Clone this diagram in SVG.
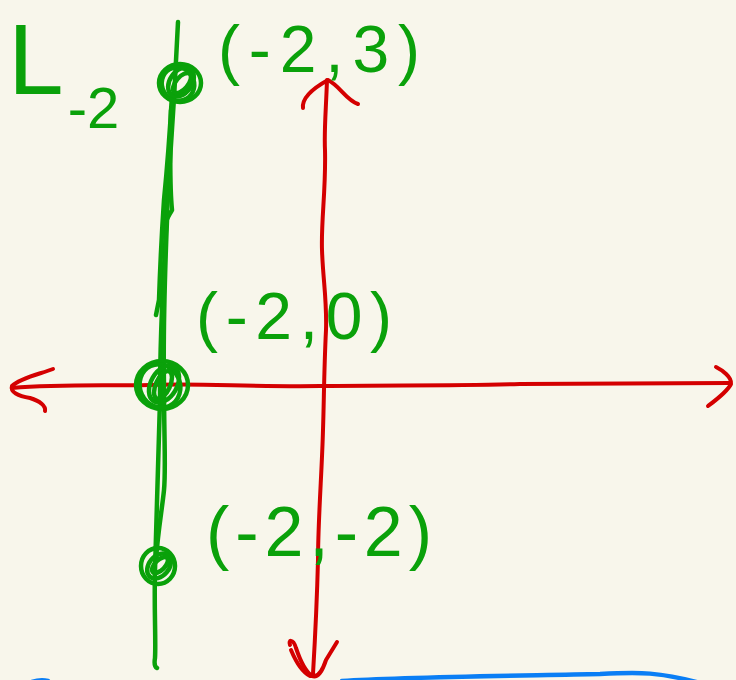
<svg xmlns="http://www.w3.org/2000/svg" width="736" height="680" viewBox="0 0 736 680">
<style>
.r{fill:none;stroke:#d40000;stroke-width:4;stroke-linecap:round;stroke-linejoin:round}
.g{fill:none;stroke:#0aa10a;stroke-width:4.5;stroke-linecap:round;stroke-linejoin:round}
.b{fill:none;stroke:#0a7ef5;stroke-width:4.5;stroke-linecap:round}
.t{fill:#0aa10a;font-family:"Liberation Sans",Arial,sans-serif}
</style>
<rect width="736" height="680" fill="#f8f6eb"/>
<g id="axes">
<path class="r" d="M12,388 C60,384 100,386 150,385 C200,383 250,387 320,386 C400,385 450,386 520,384 C600,383 680,383 730,383"/>
<path class="r" d="M53,369 C40,374 20,378 12,386 C10,392 18,396 30,398 C40,401 46,406 45,411"/>
<path class="r" d="M716,367 C722,370 732,377 731,384 C727,392 716,400 708,406"/>
<path class="r" d="M327,80 C326,110 324,130 325,150 C326,190 321,220 322,250 C323,280 327,300 326,330 C324,370 324,400 323,430 C322,470 318,520 318,560 C317,600 315,640 313,674"/>
<path class="r" d="M303,108 C302,100 310,90 328,80 C340,86 346,100 358,104"/>
<path class="r" d="M290,645 C288,640 293,638 296,648 C300,660 306,672 312,676 C318,678 322,672 326,660 L337,642"/>
<path class="r" d="M291,650 C296,662 302,672 310,676"/>
</g>
<g id="line-L-2">
<path class="g" d="M178,22 C177,40 176,60 175,80 C173,120 168,180 165,250 C162,300 160,350 160,400 C158,470 156,520 155,570 C154,610 156,640 155,658 C154,664 155,667 157,668"/>
<path class="g" d="M172,95 C170,130 167,170 164,200 C162,230 160,270 159,300 L156,315"/>
<path class="g" d="M171,110 C170,150 170,190 172,210 C170,214 168,216 167,220 C165,270 163,330 164,385 C164,440 166,470 164,490 C162,510 158,530 156,560"/>
</g>
<g id="point-m2-3">
<ellipse class="g" cx="180" cy="83" rx="21" ry="19"/>
<ellipse class="g" cx="178" cy="84" rx="16" ry="17" transform="rotate(-30 178 84)"/>
<ellipse class="g" cx="181" cy="82" rx="11" ry="16" transform="rotate(35 181 82)"/>
<ellipse class="g" cx="182" cy="83" rx="6" ry="12" transform="rotate(40 182 83)"/>
</g>
<g id="point-m2-0">
<ellipse class="g" cx="162" cy="385" rx="26" ry="24"/>
<ellipse class="g" cx="160" cy="386" rx="20" ry="22" transform="rotate(-25 160 386)"/>
<ellipse class="g" cx="164" cy="384" rx="13" ry="20" transform="rotate(30 164 384)"/>
<ellipse class="g" cx="163" cy="385" rx="7" ry="15" transform="rotate(25 163 385)"/>
</g>
<g id="point-m2-m2">
<ellipse class="g" cx="158" cy="566" rx="17" ry="18"/>
<ellipse class="g" cx="159" cy="566" rx="10" ry="14" transform="rotate(40 159 566)"/>
<ellipse class="g" cx="160" cy="565" rx="5" ry="10" transform="rotate(45 160 565)"/>
</g>
<g id="labels">
<text class="t" x="8" y="94" font-size="100">L<tspan font-size="58" dy="34" dx="4">-2</tspan></text>
<text class="t" x="218" y="72" font-size="66" textLength="202" lengthAdjust="spacing">(-2,3)</text>
<text class="t" x="196" y="339" font-size="66" textLength="196" lengthAdjust="spacing">(-2,0)</text>
<text class="t" x="206" y="556" font-size="70" textLength="226" lengthAdjust="spacing">(-2,-2)</text>
</g>
<g id="blue">
<path class="b" d="M342,681 C400,677 500,676 600,674 C640,672 660,672 700,683"/>
<path class="b" d="M32,682 C38,680 44,680 48,681"/>
</g>
</svg>
